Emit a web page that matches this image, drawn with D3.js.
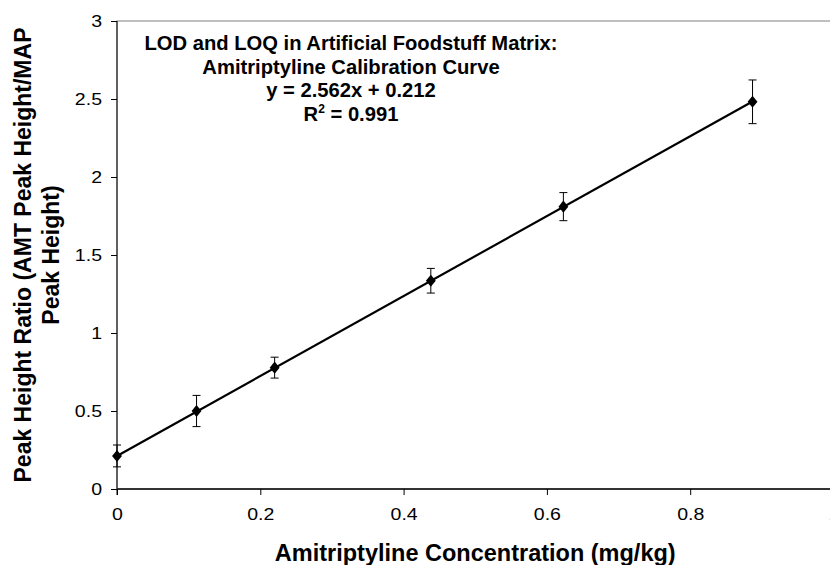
<!DOCTYPE html>
<html>
<head>
<meta charset="utf-8">
<script src="https://cdn.jsdelivr.net/npm/d3@7"></script>
<style>
  html, body { margin: 0; padding: 0; background: #fff; }
  svg { display: block; font-family: "Liberation Sans", Arial, sans-serif; }
</style>
</head>
<body>
<svg id="chart" width="830" height="565"></svg>
<script>
// Calibration standards: concentration (mg/kg), mean peak height ratio, ± error
const concentration = [0, 0.111, 0.220, 0.438, 0.623, 0.887];
const ratio = [0.212, 0.500, 0.778, 1.335, 1.810, 2.482];
const errorHalf = [0.070, 0.100, 0.067, 0.079, 0.090, 0.140];

// Linear fit printed on the chart
const slope = 2.562;
const intercept = 0.212;
const rSquared = 0.991;

const xTicks = [0, 0.2, 0.4, 0.6, 0.8, 1];
const yTicks = [0, 0.5, 1, 1.5, 2, 2.5, 3];

const titleLines = [
  "LOD and LOQ in Artificial Foodstuff Matrix:",
  "Amitriptyline Calibration Curve",
  "y = " + slope.toFixed(3) + "x + " + intercept.toFixed(3)
];
const xTitle = "Amitriptyline Concentration (mg/kg)";
const yTitleLines = ["Peak Height Ratio (AMT Peak Height/MAP", "Peak Height)"];

const svg = d3.select("#chart");
const plotLeft = 117, plotRight = 833.5, plotTop = 21, plotBottom = 489;

const x = d3.scaleLinear().domain([0, 1]).range([plotLeft, plotRight]);
const y = d3.scaleLinear().domain([0, 3]).range([plotBottom, plotTop]);

// widen tick glyphs a little, keeping their anchor
function widen(sel, factor) {
  sel.each(function () {
    const len = this.getComputedTextLength();
    d3.select(this).attr("textLength", len * factor).attr("lengthAdjust", "spacingAndGlyphs");
  });
}

// plot area frame
svg.append("rect")
  .attr("x", plotLeft).attr("y", plotTop)
  .attr("width", plotRight - plotLeft).attr("height", plotBottom - plotTop)
  .attr("fill", "none").attr("stroke", "#808080").attr("stroke-width", 1);

// y axis
const yAxis = svg.append("g")
  .attr("transform", `translate(${plotLeft},0)`)
  .call(d3.axisLeft(y).tickValues(yTicks).tickSize(6).tickPadding(9)
    .tickFormat(d3.format("~g")));
yAxis.select(".domain").attr("stroke", "#000").attr("d", `M0,${plotTop}V${plotBottom + 6}`);
yAxis.selectAll(".tick line").attr("stroke", "#000");
yAxis.selectAll(".tick text").attr("font-size", 16).attr("fill", "#000")
  .attr("font-family", "'Liberation Sans', Arial, sans-serif")
  .call(widen, 1.22);

// x axis
const xAxis = svg.append("g")
  .attr("transform", `translate(0,${plotBottom})`)
  .call(d3.axisBottom(x).tickValues(xTicks).tickSize(6).tickPadding(14)
    .tickFormat(d3.format("~g")));
xAxis.select(".domain").attr("stroke", "#333").attr("stroke-width", 2)
  .attr("d", `M${plotLeft},0H${plotRight}`);
xAxis.selectAll(".tick line").attr("stroke", "#000");
xAxis.selectAll(".tick text").attr("font-size", 16).attr("fill", "#000")
  .attr("font-family", "'Liberation Sans', Arial, sans-serif")
  .call(widen, 1.22);

// fitted line over the calibration range
const xMin = d3.min(concentration), xMax = d3.max(concentration);
svg.append("line")
  .attr("x1", x(xMin)).attr("y1", y(slope * xMin + intercept))
  .attr("x2", x(xMax)).attr("y2", y(slope * xMax + intercept))
  .attr("stroke", "#000").attr("stroke-width", 2.2);

const points = concentration.map((c, i) => ({ c, r: ratio[i], e: errorHalf[i] }));

// error bars
const bars = svg.append("g").attr("stroke", "#000").attr("stroke-width", 1);
points.forEach(p => {
  const cx = x(p.c), y1 = y(p.r + p.e), y2 = y(p.r - p.e);
  bars.append("line").attr("x1", cx).attr("x2", cx).attr("y1", y1).attr("y2", y2);
  bars.append("line").attr("x1", cx - 4).attr("x2", cx + 4).attr("y1", y1).attr("y2", y1);
  bars.append("line").attr("x1", cx - 4).attr("x2", cx + 4).attr("y1", y2).attr("y2", y2);
});

// diamond markers
const diamond = {
  draw(ctx, size) {
    const w = Math.sqrt(size) * 0.45, h = Math.sqrt(size) * 0.55;
    ctx.moveTo(0, -h); ctx.lineTo(w, 0); ctx.lineTo(0, h); ctx.lineTo(-w, 0); ctx.closePath();
  }
};
svg.append("g").selectAll("path").data(points).join("path")
  .attr("d", d3.symbol().type(diamond).size(120))
  .attr("transform", d => `translate(${x(d.c)},${y(d.r)})`)
  .attr("fill", "#000");

// chart title with equation
const titleX = 351;
const title = svg.append("text")
  .attr("text-anchor", "middle").attr("font-weight", "bold").attr("font-size", 20.2)
  .attr("fill", "#000");
titleLines.forEach((t, i) => {
  title.append("tspan").attr("x", titleX).attr("y", 50 + i * 23.6).text(t);
});
const r2 = title.append("tspan").attr("x", titleX).attr("y", 50 + 3 * 23.6);
r2.append("tspan").text("R");
r2.append("tspan").attr("font-size", 12).attr("dy", -8).text("2");
r2.append("tspan").attr("dy", 8).text(" = " + rSquared.toFixed(3));

// axis titles
svg.append("text")
  .attr("x", (plotLeft + plotRight) / 2).attr("y", 561)
  .attr("text-anchor", "middle").attr("font-weight", "bold").attr("font-size", 23.5)
  .attr("fill", "#000").text(xTitle);

const yTitle = svg.append("text")
  .attr("transform", `translate(31,${(plotTop + plotBottom) / 2}) rotate(-90)`)
  .attr("text-anchor", "middle").attr("font-weight", "bold").attr("font-size", 23)
  .attr("fill", "#000");
yTitleLines.forEach((t, i) => {
  yTitle.append("tspan").attr("x", 0).attr("y", i * 28).text(t);
});
</script>
</body>
</html>
